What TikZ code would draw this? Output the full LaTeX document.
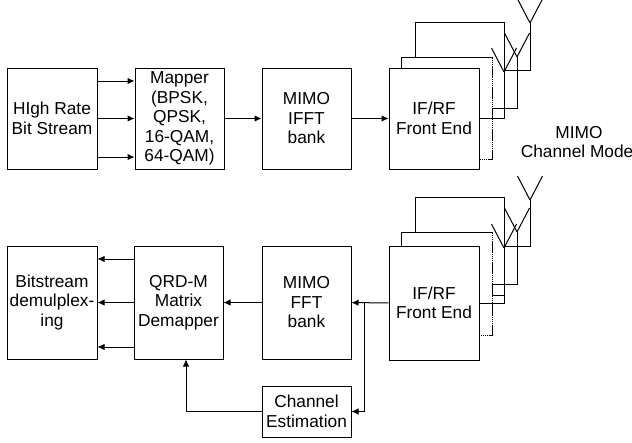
\documentclass[tikz,border=0pt]{standalone}
\usepackage{fontspec}
\setmainfont{Liberation Sans}
\usetikzlibrary{arrows.meta,calc}
\begin{document}
\begin{tikzpicture}[x=1pt,y=-1pt,line width=1pt,
  txt/.style={font=\fontsize{17.3}{19.5}\selectfont, align=center, inner sep=0pt},
  box/.style={txt, draw, fill=white},
  hidedge/.style={dash pattern=on 1.6pt off 0.5pt},
  arr/.style={-{Latex[length=7pt,width=6.5pt]}}]
\useasboundingbox (0,0) rectangle (632,442);

% ---------------- top row ----------------
\node[box, minimum width=90pt, minimum height=101pt] (hr) at (52,118.5) {HIgh Rate\\Bit Stream};
\node[box, minimum width=89pt, minimum height=101pt] (map) at (179.5,118.5) {Mapper\\(BPSK,\\QPSK,\\16-QAM,\\64-QAM)};
\node[box, minimum width=89pt, minimum height=101pt] (ifft) at (306.5,118.5) {MIMO\\IFFT\\bank};

\node[box, minimum width=89pt, minimum height=96pt] (rf3) at (459.5,70) {};
\node[box, draw=none, minimum width=90pt, minimum height=101pt] (rf2) at (447,108.5) {};
\draw (rf2.north east) -- (rf2.north west) -- (rf2.south west);
\draw[hidedge] (rf2.north east) -- (rf2.south east) -- (rf2.south west);
\node[box, minimum width=90pt, minimum height=101pt] (rf1) at (434,118.5) {IF/RF\\Front End};

\coordinate (ta1) at (530,23);
\coordinate (ta2) at (517,57);
\coordinate (ta3) at (504,72);
\foreach \c in {ta1,ta2,ta3} \draw (\c) -- ++(-12.5,-24) (\c) -- ++(12.5,-24);
\draw (rf1.east) -| (ta3);
\draw (rf2.east) -| (ta2);
\draw (rf3.east) -| (ta1);

\draw[arr] ([yshift=37.5pt]hr.east) -- ([yshift=37.5pt]map.west);
\draw[arr] (hr.east) -- (map.west);
\draw[arr] ([yshift=-38.5pt]hr.east) -- ([yshift=-38.5pt]map.west);
\draw[arr] (map) -- (ifft);
\draw[arr] (ifft) -- (rf1);

\node[txt] (cm) at (579,142) {MIMO\\Channel Model};

% ---------------- bottom row ----------------
\node[box, minimum width=90pt, minimum height=113pt] (bs) at (52,302.5) {Bitstream\\demulplex-\\ing};
\node[box, minimum width=89pt, minimum height=113pt] (qrd) at (178.5,302.5) {QRD-M\\Matrix\\Demapper};
\node[box, minimum width=89pt, minimum height=113pt] (fft) at (306.5,302.5) {MIMO\\FFT\\bank};
\node[box, minimum width=89pt, minimum height=51pt] (ce) at (306.5,411.5) {Channel\\Estimation};

\node[box, minimum width=89pt, minimum height=98pt] (rf3b) at (459.5,246) {};
\node[box, draw=none, minimum width=90pt, minimum height=102pt] (rf2b) at (447,284) {};
\draw (rf2b.north east) -- (rf2b.north west) -- (rf2b.south west);
\draw[hidedge] (rf2b.north east) -- (rf2b.south east) -- (rf2b.south west);
\node[box, minimum width=90pt, minimum height=114pt] (rf1b) at (434,303) {IF/RF\\Front End};

\coordinate (ba1) at (530,200);
\coordinate (ba2) at (517,232);
\coordinate (ba3) at (504,248);
\foreach \c in {ba1,ba2,ba3} \draw (\c) -- ++(-12.5,-24) (\c) -- ++(12.5,-24);
\draw (rf1b.east) -| (ba3);
\draw (rf2b.east) -| (ba2);
\draw (rf3b.east) -| (ba1);

\draw[arr] ([yshift=43.5pt]qrd.west) -- ([yshift=43.5pt]bs.east);
\draw[arr] (qrd.west) -- (bs.east);
\draw[arr] ([yshift=-44.5pt]qrd.west) -- ([yshift=-44.5pt]bs.east);
\draw[arr] (fft) -- (qrd);
\draw[arr] (rf1b) -- (fft);
\coordinate (br) at (364,303);
\draw[arr] (br) |- (ce.east);
\draw[arr] (ce.west) -| ([xshift=7.5pt]qrd.south);
\end{tikzpicture}
\end{document}
